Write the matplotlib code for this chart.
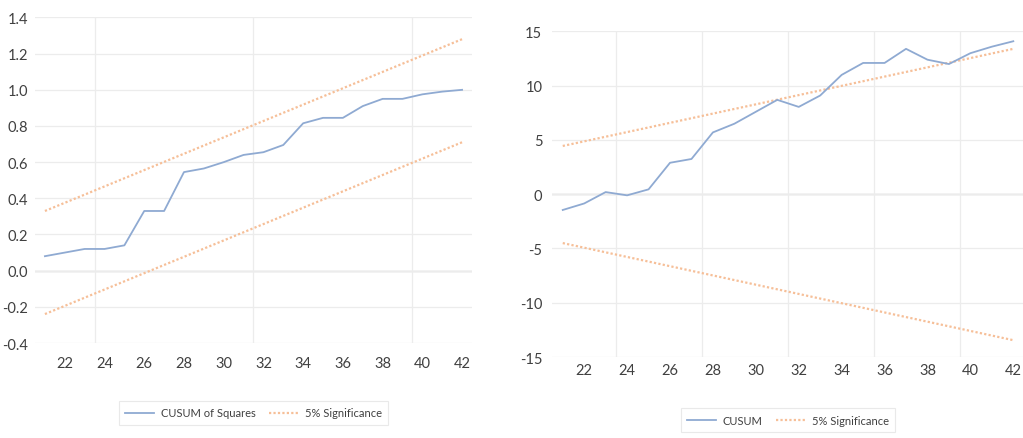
import numpy as np
import matplotlib
matplotlib.use('Agg')
import matplotlib.pyplot as plt
from matplotlib.ticker import FixedLocator

plt.rcParams['font.family'] = ['Lato', 'DejaVu Sans']

# recursive residual tests, observations 21..42
obs = list(range(21, 43))
cusum_sq = [0.08, 0.10, 0.12, 0.12, 0.14, 0.33, 0.33, 0.545, 0.565, 0.60, 0.64,
            0.655, 0.695, 0.815, 0.845, 0.845, 0.91, 0.95, 0.95, 0.975, 0.99, 1.0]
cusum = [-1.45, -0.85, 0.2, -0.1, 0.45, 2.9, 3.25, 5.7, 6.5, 7.6, 8.7,
         8.05, 9.1, 11.0, 12.1, 12.1, 13.4, 12.4, 12.0, 13.0, 13.6, 14.1]

# 5% significance bounds (straight lines between first and last observation)
bound_x = [21, 42]
sq_upper = [0.33, 1.28]
sq_lower = [-0.24, 0.71]
cs_upper = [4.45, 13.4]
cs_lower = [-4.5, -13.45]

x_ticks = list(range(22, 43, 2))
sq_yticks = [-0.4, -0.2, 0.0, 0.2, 0.4, 0.6, 0.8, 1.0, 1.2, 1.4]
cs_yticks = [-15, -10, -5, 0, 5, 10, 15]

blue = '#8faad2'
orange = '#f6bf98'
grid_c = '#ececec'
zero_c = '#c8c8c8'
txt_c = '#404040'

fig = plt.figure(figsize=(10.23, 4.39), dpi=100)
ax1 = fig.add_axes([0.0342, 0.2164, 0.4272, 0.7415])
ax2 = fig.add_axes([0.5396, 0.1845, 0.4614, 0.7415])


def style_axes(ax, yticks, vgrid, xpad, ypad, ylabels):
    ax.set_xlim(20.5, 42.5)
    ax.set_ylim(yticks[0], yticks[-1])
    for s in ax.spines.values():
        s.set_visible(False)
    ax.set_xticks(x_ticks)
    ax.set_yticks(yticks)
    ax.set_yticklabels(ylabels)
    ax.xaxis.set_minor_locator(FixedLocator(vgrid))
    ax.tick_params(axis='both', which='both', length=0, labelsize=10.5, colors=txt_c)
    ax.tick_params(axis='x', pad=xpad)
    ax.tick_params(axis='y', pad=ypad)
    ax.grid(False)
    ax.grid(True, which='minor', axis='x', color=grid_c, lw=0.9)
    ax.grid(True, which='major', axis='y', color=grid_c, lw=0.9)
    ax.axhline(0, color=zero_c, lw=1.0, zorder=1)


style_axes(ax1, sq_yticks, [23.5, 31.5, 39.5], 9, 5,
           ['%.1f' % v for v in sq_yticks])
style_axes(ax2, cs_yticks, [23.5, 27.5, 31.5, 35.5, 39.5], 4, 7,
           [str(v) for v in cs_yticks])

ax1.plot(obs, cusum_sq, color=blue, lw=1.3, label='CUSUM of Squares', zorder=3)
ax1.plot(bound_x, sq_upper, color=orange, lw=1.6, ls=(0, (1, 1)), label='5% Significance', zorder=2)
ax1.plot(bound_x, sq_lower, color=orange, lw=1.6, ls=(0, (1, 1)), zorder=2)

ax2.plot(obs, cusum, color=blue, lw=1.3, label='CUSUM', zorder=3)
ax2.plot(bound_x, cs_upper, color=orange, lw=1.6, ls=(0, (1, 1)), label='5% Significance', zorder=2)
ax2.plot(bound_x, cs_lower, color=orange, lw=1.6, ls=(0, (1, 1)), zorder=2)

for ax, y_anchor in ((ax1, -0.215), (ax2, -0.194)):
    leg = ax.legend(loc='center', bbox_to_anchor=(0.5, y_anchor), ncol=2, fontsize=8,
                    frameon=True, fancybox=False, handlelength=2.6, columnspacing=1.2,
                    handletextpad=0.6, borderpad=0.6)
    leg.get_frame().set_edgecolor('#e4e4e4')
    leg.get_frame().set_linewidth(0.8)
    for t in leg.get_texts():
        t.set_color(txt_c)

fig.savefig('out.png', dpi=100)
